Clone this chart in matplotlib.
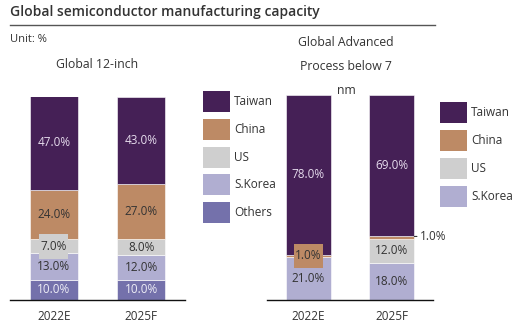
import matplotlib
matplotlib.use("Agg")
import matplotlib.pyplot as plt
from matplotlib.patches import Rectangle

plt.rcParams['font.family'] = ['Open Sans', 'DejaVu Sans']

years = ["2022E", "2025F"]
left_series = ["Taiwan", "China", "US", "S.Korea", "Others"]
left_values = {
    "Others": [10.0, 10.0],
    "S.Korea": [13.0, 12.0],
    "US": [7.0, 8.0],
    "China": [24.0, 27.0],
    "Taiwan": [47.0, 43.0],
}
right_series = ["Taiwan", "China", "US", "S.Korea"]
right_values = {
    "S.Korea": [21.0, 18.0],
    "US": [0.0, 12.0],
    "China": [1.0, 1.0],
    "Taiwan": [78.0, 69.0],
}
colors = {
    "Taiwan": "#452056",
    "China": "#bd8a65",
    "US": "#cfcfcf",
    "S.Korea": "#b0aed1",
    "Others": "#7471ab",
}
text_colors = {
    "Taiwan": "#e6dced",
    "China": "#333333",
    "US": "#333333",
    "S.Korea": "#333333",
    "Others": "#eeeef6",
}
stack_order_left = ["Others", "S.Korea", "US", "China", "Taiwan"]
stack_order_right = ["S.Korea", "US", "China", "Taiwan"]

W, H = 515, 326
fig = plt.figure(figsize=(W / 100, H / 100), dpi=100)


def ax_px(x0, x1, ybot, ytop):
    return fig.add_axes([x0 / W, 1 - ybot / H, (x1 - x0) / W, (ybot - ytop) / H])


def draw(ax, order, values, small_boxed, small_outside):
    xs = list(range(len(years)))
    bottoms = [0.0] * len(years)
    for s in order:
        vals = values[s]
        ax.bar(xs, vals, width=0.55, bottom=bottoms, color=colors[s],
               edgecolor="white", linewidth=0.4)
        for i, v in enumerate(vals):
            if v <= 0:
                continue
            yc = bottoms[i] + v / 2
            key = (s, i)
            if key in small_outside:
                ytop = bottoms[i] + v
                ax.annotate(f"{v:.1f}%", xy=(i + 0.275, ytop), xytext=(i + 0.34, ytop),
                            ha="left", va="center", fontsize=8.5, color="#333333",
                            arrowprops=dict(arrowstyle="-", color="#333333", lw=0.8))
            elif key in small_boxed:
                ax.text(i, yc, f"{v:.1f}%", ha="center", va="center", fontsize=8.5,
                        color=text_colors[s],
                        bbox=dict(boxstyle="square,pad=0.1", fc=colors[s], ec="none",
                                  mutation_aspect=5))
            else:
                ax.text(i, yc, f"{v:.1f}%", ha="center", va="center", fontsize=8.5,
                        color=text_colors[s])
        bottoms = [b + v for b, v in zip(bottoms, vals)]
    ax.set_xlim(-0.5, 1.5)
    ax.set_ylim(0, 100)
    ax.set_xticks(xs)
    ax.set_xticklabels(years, fontsize=8.5, color="#333333")
    ax.tick_params(axis="x", length=0, pad=7)
    ax.set_yticks([])
    for sp in ["top", "right", "left"]:
        ax.spines[sp].set_visible(False)
    ax.spines["bottom"].set_color("#111111")
    ax.spines["bottom"].set_linewidth(1.0)


axL = ax_px(10, 185, 300, 97)
draw(axL, stack_order_left, left_values, {("US", 0)}, set())
axR = ax_px(267, 433, 300, 95)
draw(axR, stack_order_right, right_values, {("China", 0)}, {("China", 1)})


def legend(series, x, y, step):
    for k, s in enumerate(series):
        top = y + k * step
        fig.add_artist(Rectangle((x / W, 1 - (top + 21) / H), 27 / W, 21 / H,
                                 transform=fig.transFigure, facecolor=colors[s],
                                 edgecolor="none"))
        fig.text((x + 31) / W, 1 - (top + 10.5) / H, s, fontsize=8.5,
                 color="#333333", va="center", ha="left")


legend(left_series, 203, 91, 27.8)
legend(right_series, 440, 102, 28)

fig.text(10 / W, 1 - 12 / H, "Global semiconductor manufacturing capacity",
         fontsize=10, fontweight="semibold", color="#333333", va="center", ha="left")
fig.add_artist(plt.Line2D([10 / W, 435 / W], [1 - 25 / H, 1 - 25 / H],
                          color="#555555", lw=1.0))
fig.text(10 / W, 1 - 39 / H, "Unit: %", fontsize=8, color="#333333", va="center")
fig.text(97 / W, 1 - 64 / H, "Global 12-inch", fontsize=8.8, color="#333333",
         va="center", ha="center")
fig.text(346 / W, 1 - 42 / H, "Global Advanced", fontsize=8.8, color="#333333",
         va="center", ha="center")
fig.text(346 / W, 1 - 66 / H, "Process below 7", fontsize=8.8, color="#333333",
         va="center", ha="center")
fig.text(346 / W, 1 - 90 / H, "nm", fontsize=8.8, color="#333333",
         va="center", ha="center")

fig.savefig("out.png", dpi=100)
